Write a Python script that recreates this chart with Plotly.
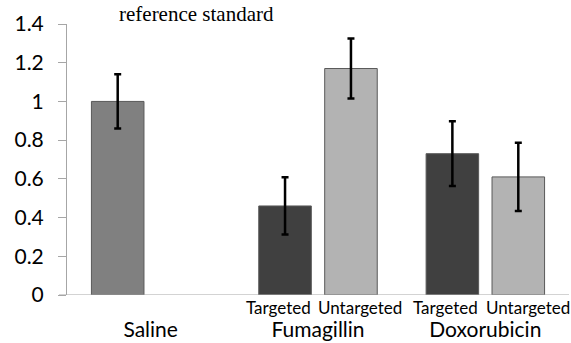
import plotly.graph_objects as go

categories = ["Saline", "Fumagillin", "Doxorubicin"]
sub_labels = ["Targeted", "Untargeted"]

saline_value = [1.00]
saline_err = [0.14]
targeted_values = [0.46, 0.73]
targeted_err = [0.148, 0.167]
untargeted_values = [1.17, 0.61]
untargeted_err = [0.155, 0.176]

title_text = "reference standard"
y_ticks = [0, 0.2, 0.4, 0.6, 0.8, 1.0, 1.2, 1.4]
y_ticktext = ["0", "0.2", "0.4", "0.6", "0.8", "1", "1.2", "1.4"]

slot = 0.197
bar_w = 0.314

sal_x = [0 - slot]
tgt_x = [i - slot for i in (1, 2)]
unt_x = [i + slot for i in (1, 2)]

err_style = dict(type="data", visible=True, color="black", thickness=2.5, width=3.5)
line_style = dict(color="#595959", width=1)

fig = go.Figure()
fig.add_trace(go.Bar(x=sal_x, y=saline_value, width=bar_w,
                     marker=dict(color="#808080", line=line_style),
                     error_y=dict(array=saline_err, **err_style), showlegend=False,
                     hoverinfo="skip"))
fig.add_trace(go.Bar(x=tgt_x, y=targeted_values, width=bar_w,
                     marker=dict(color="#404040", line=line_style),
                     error_y=dict(array=targeted_err, **err_style), showlegend=False,
                     hoverinfo="skip"))
fig.add_trace(go.Bar(x=unt_x, y=untargeted_values, width=bar_w,
                     marker=dict(color="#b3b3b3", line=line_style),
                     error_y=dict(array=untargeted_err, **err_style), showlegend=False,
                     hoverinfo="skip"))

sub_font = dict(family="Lato", size=17, color="black")
annotations = []
for i in (1, 2):
    annotations.append(dict(x=i - slot, y=0, xref="x", yref="y", text=sub_labels[0],
                            showarrow=False, xshift=-7, yanchor="top", yshift=0,
                            font=sub_font))
    annotations.append(dict(x=i + slot, y=0, xref="x", yref="y", text=sub_labels[1],
                            showarrow=False, xshift=9.5, yanchor="top", yshift=0,
                            font=sub_font))
annotations.append(dict(x=0.1, y=1.0, xref="paper", yref="paper", text=title_text,
                        showarrow=False, xanchor="left", yanchor="bottom", yshift=-4,
                        font=dict(family="Liberation Serif", size=21, color="black")))

fig.update_layout(
    width=571, height=343,
    margin=dict(l=67, r=2, t=24, b=48),
    paper_bgcolor="white", plot_bgcolor="white",
    bargap=0,
    annotations=annotations,
    xaxis=dict(range=[-0.5, 2.5], tickvals=[0, 1, 2], ticktext=categories,
               showgrid=False, zeroline=False, showline=False, ticks="",
               tickfont=dict(family="Lato", size=21, color="black"),
               ticklabelstandoff=20, automargin=False),
    yaxis=dict(range=[0, 1.4], tickvals=y_ticks, ticktext=y_ticktext,
               showgrid=False, zeroline=False, showline=True, linecolor="#a6a6a6",
               linewidth=1, ticks="outside", ticklen=8, tickcolor="#a6a6a6",
               tickfont=dict(family="Lato", size=21, color="black"),
               ticklabelstandoff=10, automargin=False),
    shapes=[dict(type="line", xref="paper", yref="y", x0=-8 / 502, x1=1, y0=0, y1=0,
                 line=dict(color="#a6a6a6", width=1))],
)

fig.write_html("out.html", config={"displayModeBar": False, "staticPlot": True},
               post_script="document.body.style.margin='0';document.body.style.overflow='hidden';")
